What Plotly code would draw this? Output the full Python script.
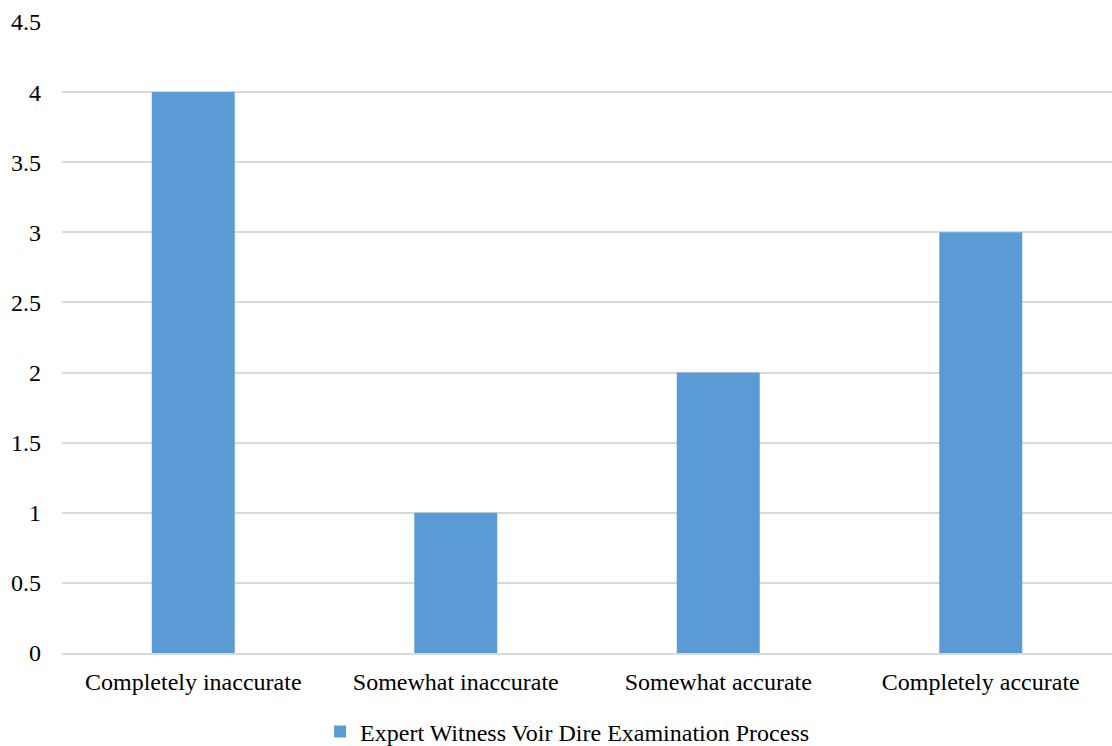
import plotly.graph_objects as go

categories = ["Completely inaccurate", "Somewhat inaccurate", "Somewhat accurate", "Completely accurate"]
values = [4, 1, 2, 3]
series_name = "Expert Witness Voir Dire Examination Process"
y_ticks = [0, 0.5, 1, 1.5, 2, 2.5, 3, 3.5, 4, 4.5]
y_tick_labels = ["0", "0.5", "1", "1.5", "2", "2.5", "3", "3.5", "4", "4.5"]

font_family = "Liberation Serif, Times New Roman, serif"
font_size = 24

fig = go.Figure(
    go.Bar(
        x=categories,
        y=values,
        name=series_name,
        marker=dict(color="#5B9BD5", line=dict(width=0)),
        showlegend=True,
    )
)

fig.update_layout(
    width=1112,
    height=746,
    margin=dict(l=62, r=0, t=22, b=93, autoexpand=False),
    paper_bgcolor="white",
    plot_bgcolor="white",
    bargap=0.684,
    font=dict(family=font_family, size=font_size, color="#000000"),
    showlegend=True,
    legend=dict(
        orientation="h",
        x=0.51,
        xanchor="center",
        xref="container",
        y=0.019,
        yanchor="middle",
        yref="container",
        font=dict(family=font_family, size=font_size, color="#000000"),
        itemwidth=30,
    ),
)

fig.update_xaxes(
    automargin=False,
    showgrid=False,
    showline=True,
    linecolor="#D9D9D9",
    linewidth=2,
    ticks="",
    ticklabelstandoff=6,
    tickfont=dict(family=font_family, size=font_size, color="#000000"),
)

fig.update_yaxes(
    automargin=False,
    range=[0, 4.5],
    tickvals=y_ticks,
    ticktext=y_tick_labels,
    showgrid=True,
    gridcolor="#D9D9D9",
    gridwidth=1.5,
    zeroline=False,
    showline=False,
    ticks="",
    ticklabelstandoff=20,
    tickfont=dict(family=font_family, size=font_size, color="#000000"),
)

fig.write_html("out.html")
